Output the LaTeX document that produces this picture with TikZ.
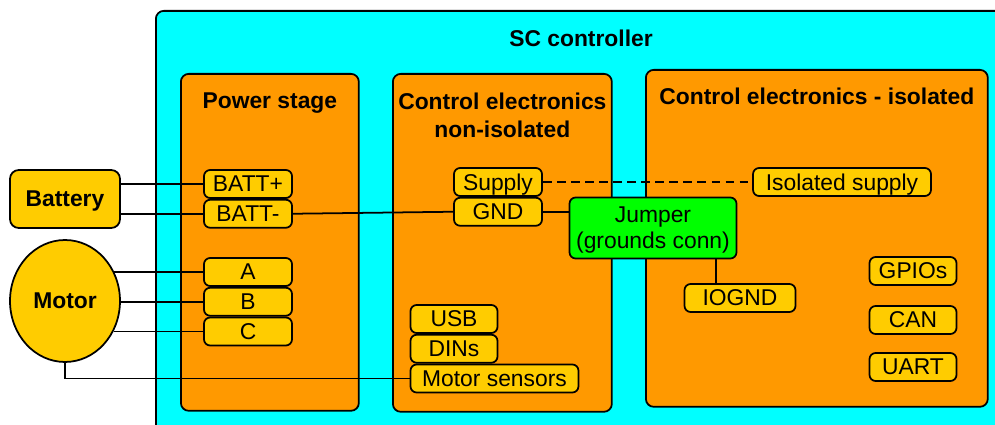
\documentclass[tikz,border=0pt]{standalone}
\usepackage{fontspec}
\setmainfont{Liberation Sans}
\usetikzlibrary{positioning,shapes.geometric,calc}
\definecolor{sccyan}{RGB}{0,255,255}
\definecolor{sectorange}{RGB}{255,153,0}
\definecolor{portyellow}{RGB}{255,204,0}
\definecolor{jumpgreen}{RGB}{0,255,0}

\begin{document}
\begin{tikzpicture}[
  x=0.02cm, y=-0.02cm,
  line width=1pt,
  section/.style={draw, fill=sectorange, rounded corners=4.5pt, anchor=north west, inner sep=0pt},
  title/.style={font=\bfseries\fontsize{13}{16}\selectfont, align=center},
  port/.style={draw, fill=portyellow, rounded corners=3.5pt, minimum width=1.76cm, minimum height=0.56cm, inner sep=0pt, text depth=0pt, font=\fontsize{13}{15}\selectfont},
  extern/.style={draw, fill=portyellow, inner sep=0pt, text depth=0pt, font=\bfseries\fontsize{13}{15}\selectfont}
]

\useasboundingbox (0,0) rectangle (995,425);

% Gehaeuse und Bereiche
\node[section, fill=sccyan, minimum width=17cm, minimum height=9cm] (sc) at (155,10) {};
\node[title] (sctitle) at (581,38) {SC controller};
\node[section, minimum width=3.56cm, minimum height=6.74cm] (power) at (180,73) {};
\node[title] (powertitle) at ([yshift=-0.6cm]power.north) {Power stage};
\node[section, minimum width=4.38cm, minimum height=6.76cm] (ctrl) at (392,73) {};
\node[title] (ctrltitle) at ([yshift=-0.84cm]ctrl.north) {Control electronics\\non-isolated};
\node[section, minimum width=6.84cm, minimum height=6.74cm] (iso) at (645,69) {};
\node[title] (isotitle) at ([yshift=-0.54cm]iso.north) {Control electronics - isolated};

% externe Teile
\node[extern, rounded corners=5pt, minimum width=2.2cm, minimum height=1.16cm] (battery) at (65,199) {Battery};
\node[extern, ellipse, minimum width=2.2cm, minimum height=2.44cm] (motor) at (65,301) {Motor};

% Anschluesse Leistungsteil
\node[port] (battp) at (248,184) {BATT+};
\node[port, below=0pt of battp] (battm) {BATT-};
\node[port] (pha) at (248,272) {A};
\node[port, below=0pt of pha] (phb) {B};
\node[port, below=0pt of phb] (phc) {C};

% Anschluesse nicht isoliert
\node[port] (supply) at (498,182) {Supply};
\node[port, below=0pt of supply] (gnd) {GND};
\node[port, minimum width=1.74cm] (usb) at (454,319) {USB};
\node[port, minimum width=1.74cm, below=0pt of usb] (dins) {DINs};
\node[port, minimum width=3.36cm, below=0pt of dins.south west, anchor=north west] (msens) {Motor sensors};

% Anschluesse isoliert
\node[port, minimum width=3.56cm] (isosupply) at (842,182) {Isolated supply};
\node[port, fill=jumpgreen, align=center, minimum width=3.34cm, minimum height=1.22cm,
      font=\fontsize{13}{14.7}\selectfont] (jumper) at (653,228) {Jumper\\(grounds conn)};
\node[port, minimum width=2.22cm] (iognd) at (740,298) {IOGND};
\node[port, minimum width=1.74cm] (gpios) at (913,271) {GPIOs};
\node[port, minimum width=1.74cm] (can) at (913,320) {CAN};
\node[port, minimum width=1.74cm] (uart) at (913,367) {UART};

% Leitungen
\draw (battery.east |- battp.west) -- (battp.west);
\draw (battery.east |- battm.west) -- (battm.west);
\draw (battm.east) -- (gnd.west);
\draw (gnd.east) -- (gnd.east -| jumper.west);
\draw[dash pattern=on 5pt off 3pt] (supply.east) -- (isosupply.west);
\draw ([xshift=-0.48cm]iognd.north |- jumper.south) -- ([xshift=-0.48cm]iognd.north);
\draw (pha.west -| motor.31) -- (pha.west);
\draw (phb.west -| motor.east) -- (phb.west);
\draw (phc.west -| motor.-31) -- (phc.west);
\draw (motor.south) |- (msens.west);

\end{tikzpicture}
\end{document}
